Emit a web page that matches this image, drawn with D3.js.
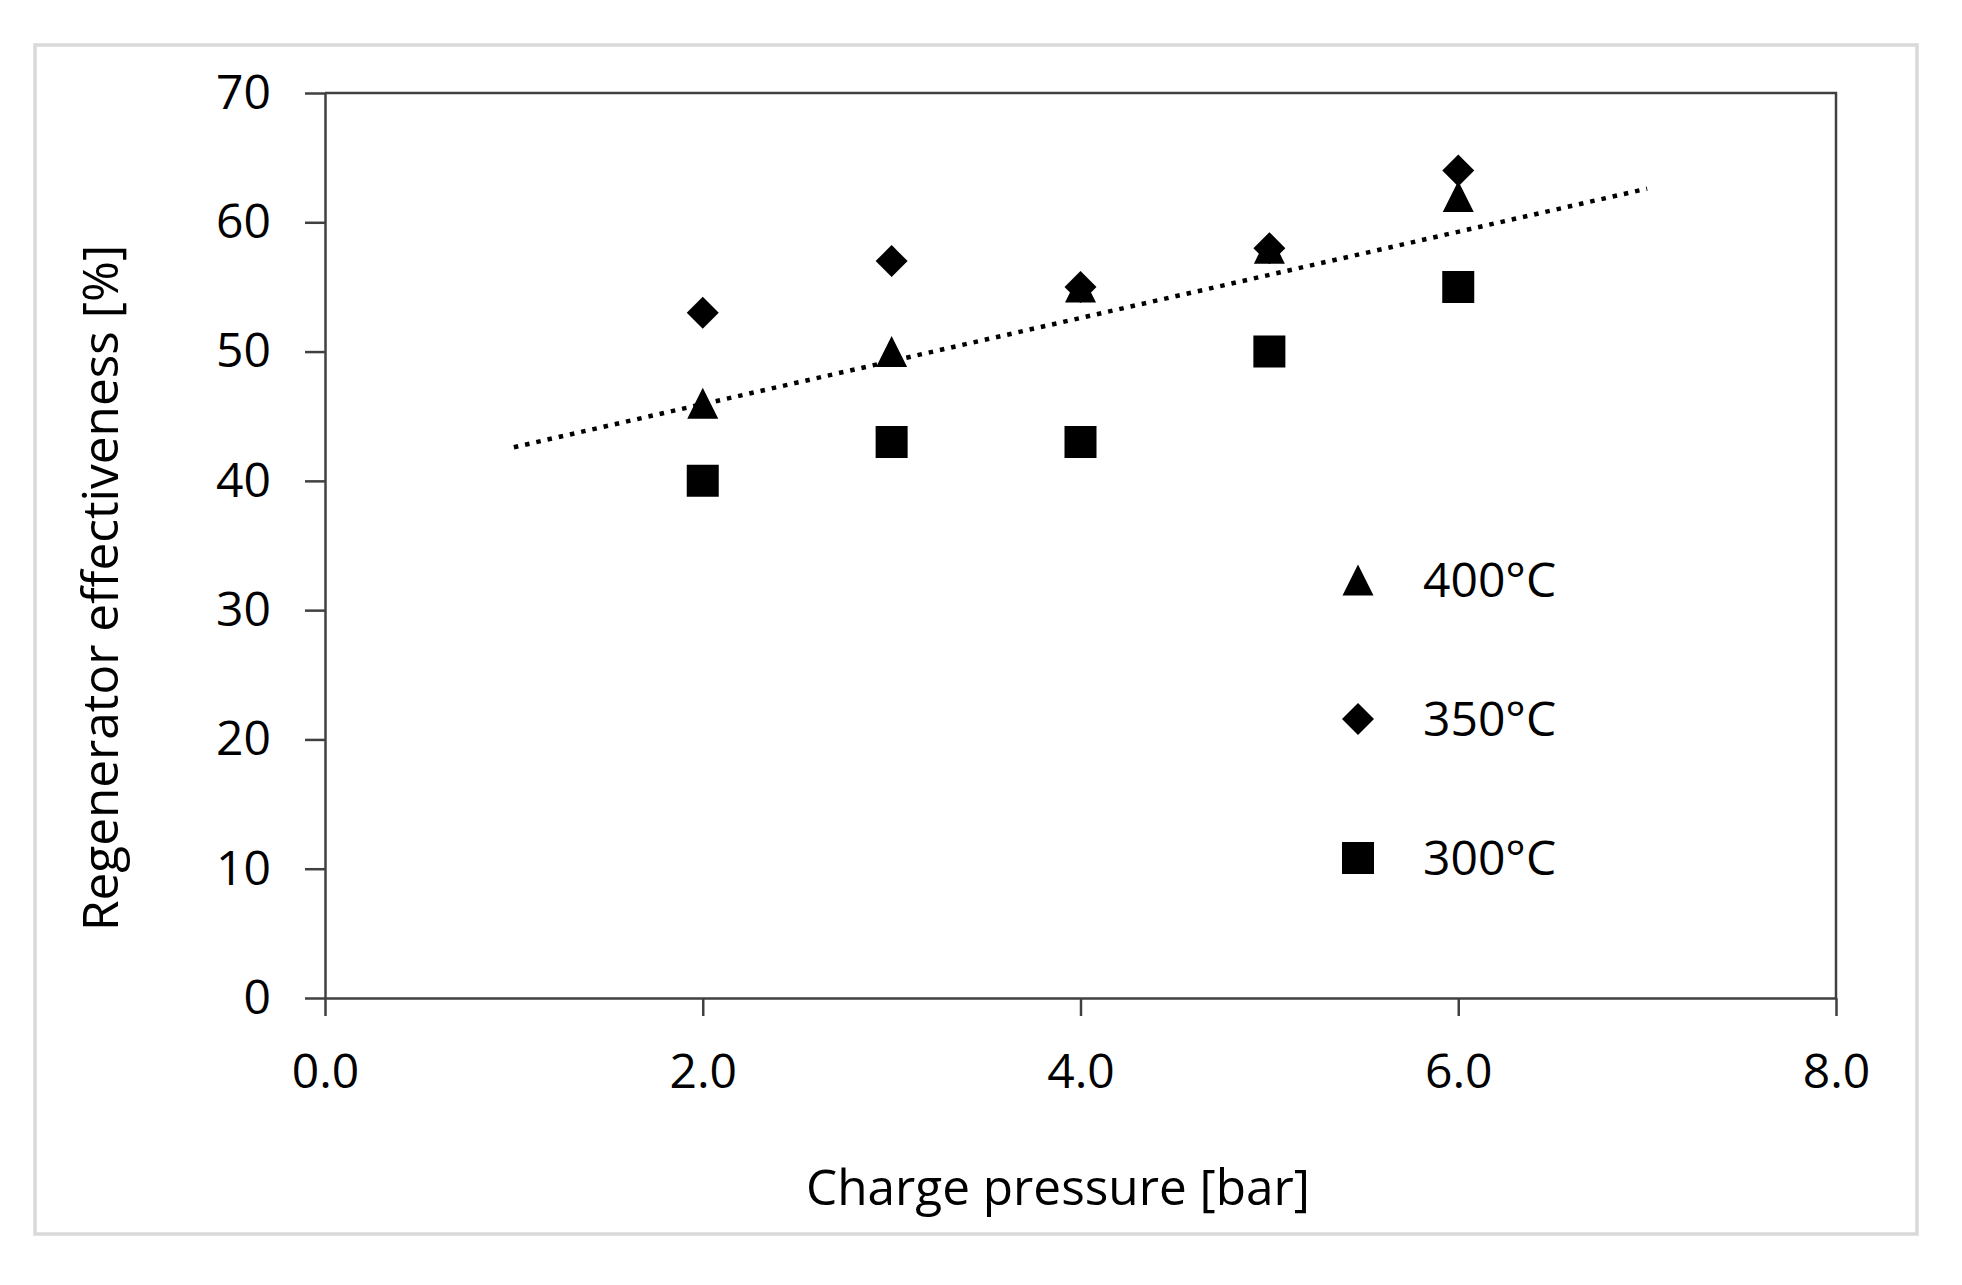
<!doctype html>
<html>
    <head>
        <meta charset="utf-8">
        <title>regenerator effectiveness</title>
        <script src="https://d3js.org/d3.v7.min.js"></script>
        <style type="text/css">
            body { margin:0; background:#fff; }
            text { font-family:"Open Sans", sans-serif; font-size:48px; fill:#000; }
            .title { font-size:49.5px; }
        </style>
    </head>
    <body>
      <svg></svg>
      <script type="text/javascript">

        let w = 1962,
            h = 1285;

        // charge pressure [bar]
        let pressures = [2, 3, 4, 5, 6];
        // regenerator effectiveness [%]
        let eff400 = [46, 50, 55, 58, 62];
        let eff350 = [53, 57, 55, 58, 64];
        let eff300 = [40, 43, 43, 50, 55];

        let seriesNames = ['400°C', '350°C', '300°C'];
        let seriesShapes = ['triangle', 'diamond', 'square'];

        let xTicks = [0, 2, 4, 6, 8];
        let yTicks = [0, 10, 20, 30, 40, 50, 60, 70];
        let trendRange = [1, 7];

        let svg = d3.select('svg')
                    .attr('width', w)
                    .attr('height', h);

        // outer frame
        svg.append('rect')
           .attr('x', 35)
           .attr('y', 45)
           .attr('width', 1882)
           .attr('height', 1189)
           .attr('fill', 'none')
           .attr('stroke', '#d9d9d9')
           .attr('stroke-width', 3.5);

        let xScale = d3.scaleLinear()
                       .domain([0, 8])
                       .range([325, 1836]);
        let yScale = d3.scaleLinear()
                       .domain([0, 70])
                       .range([998, 93]);

        // top and right border of the plot area
        svg.append('path')
           .attr('d', 'M' + xScale(0) + ',' + yScale(70) + 'H' + xScale(8) + 'V' + yScale(0))
           .attr('fill', 'none')
           .attr('stroke', '#404040')
           .attr('stroke-width', 2.5);

        let yAxis = svg.append('g')
                       .attr('transform', 'translate(' + xScale(0) + ',0)')
                       .call(d3.axisLeft(yScale).tickValues(yTicks).tickSize(20).tickPadding(34).tickSizeOuter(0));
        let xAxis = svg.append('g')
                       .attr('transform', 'translate(0,' + yScale(0) + ')')
                       .call(d3.axisBottom(xScale).tickValues(xTicks).tickSize(18).tickSizeOuter(0).tickFormat(d3.format('.1f')));

        [xAxis, yAxis].forEach(function(a) {
            a.attr('font-size', null).attr('font-family', null);
            a.selectAll('path, line').attr('stroke', '#404040').attr('stroke-width', 2.5);
            a.selectAll('text').attr('fill', '#000');
        });
        xAxis.selectAll('text').attr('y', 90).attr('dy', null);

        // least squares trend line over all points
        let allX = [], allY = [];
        [eff400, eff350, eff300].forEach(function(s) {
            s.forEach(function(v, i) { allX.push(pressures[i]); allY.push(v); });
        });
        let mx = d3.mean(allX), my = d3.mean(allY);
        let slope = d3.sum(allX, function(x, i) { return (x - mx) * (allY[i] - my); }) /
                    d3.sum(allX, function(x) { return (x - mx) * (x - mx); });
        let icpt = my - slope * mx;

        svg.append('line')
           .attr('x1', xScale(trendRange[0]))
           .attr('y1', yScale(icpt + slope * trendRange[0]))
           .attr('x2', xScale(trendRange[1]))
           .attr('y2', yScale(icpt + slope * trendRange[1]))
           .attr('stroke', '#000')
           .attr('stroke-width', 4.5)
           .attr('stroke-dasharray', '4.5 7');

        function shapePath(shape, s) {
            let r = s / 2;
            if (shape === 'triangle') return 'M0,' + (-r) + 'L' + r + ',' + r + 'L' + (-r) + ',' + r + 'Z';
            if (shape === 'diamond') return 'M0,' + (-r) + 'L' + r + ',0L0,' + r + 'L' + (-r) + ',0Z';
            return 'M' + (-r) + ',' + (-r) + 'H' + r + 'V' + r + 'H' + (-r) + 'Z';
        }
        let shapeSize = { triangle: 31, diamond: 32, square: 32 };

        let series = [eff400, eff350, eff300];
        // squares first, then triangles, diamonds on top
        [2, 0, 1].forEach(function(k) {
            svg.append('g')
               .selectAll('path')
               .data(series[k])
               .enter()
               .append('path')
               .attr('transform', function(d, i) {
                   return 'translate(' + xScale(pressures[i]) + ',' + yScale(d) + ')';
               })
               .attr('d', shapePath(seriesShapes[k], shapeSize[seriesShapes[k]]))
               .attr('fill', '#000');
        });

        // legend
        let legend = svg.append('g')
                        .selectAll('g')
                        .data(seriesNames)
                        .enter()
                        .append('g')
                        .attr('transform', function(d, i) {
                            return 'translate(1358,' + (580 + i * 139) + ')';
                        });
        legend.append('path')
              .attr('d', function(d, i) { return shapePath(seriesShapes[i], shapeSize[seriesShapes[i]]); })
              .attr('fill', '#000');
        legend.append('text')
              .attr('x', 65)
              .attr('dy', '0.36em')
              .text(function(d) { return d; });

        // axis titles
        svg.append('text')
           .attr('class', 'title')
           .attr('x', 1058)
           .attr('y', 1205)
           .attr('text-anchor', 'middle')
           .text('Charge pressure [bar]');
        svg.append('text')
           .attr('class', 'title')
           .attr('transform', 'translate(100,588) rotate(-90)')
           .attr('text-anchor', 'middle')
           .attr('dy', '0.36em')
           .text('Regenerator effectiveness [%]');

        </script>
    </body>
</html>
